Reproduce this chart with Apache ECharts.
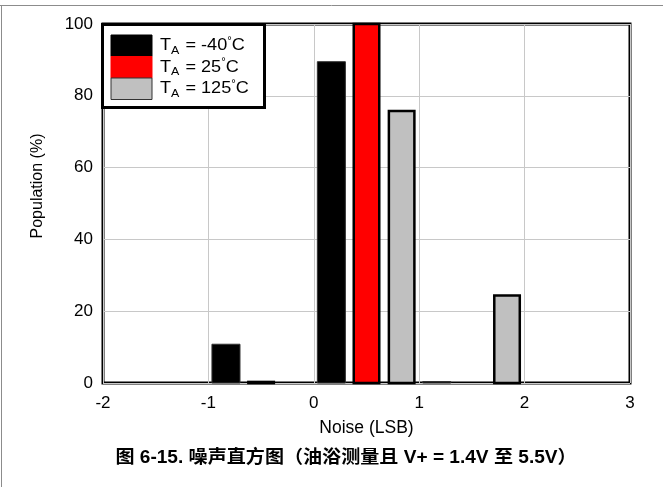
<!DOCTYPE html>
<html>
<head>
<meta charset="utf-8">
<script src="https://cdn.jsdelivr.net/npm/echarts@6/dist/echarts.min.js"></script>
<style>
  html, body { margin: 0; padding: 0; background: #fff; }
  #chart { width: 663px; height: 487px; }
</style>
</head>
<body>
<div id="chart"></div>
<script>
// Noise histogram: population (%) per 1-LSB bin, three temperatures
const bins = [-1, 0, 1];
const popMinus40 = [10.8, 89.5, 0.4];
const pop25 = [0.3, 100, 0];
const pop125 = [0, 75.8, 24.4];

const xTicks = [-2, -1, 0, 1, 2, 3];
const yTicks = [0, 20, 40, 60, 80, 100];

const seriesDefs = [
  { name: 'TA = -40°C', values: popMinus40, color: '#000000', stroke: '#333333', lw: 1,   slot: 0 },
  { name: 'TA = 25°C',  values: pop25,      color: '#ff0000', stroke: '#000000', lw: 2.5, slot: 1 },
  { name: 'TA = 125°C', values: pop125,     color: '#c0c0c0', stroke: '#000000', lw: 2.5, slot: 2 }
];

const FONT = '"Liberation Sans", Arial, "Noto Sans CJK SC", sans-serif';

function makeRender(def) {
  return function (params, api) {
    const v = api.value(1);
    if (!(v > 0)) return null;
    // each bin [k, k+1] holds three side-by-side bars
    const center = api.value(0) + (def.slot * 2 + 1) / 6;
    const half = def.lw > 1 ? 0.121 : 0.133;
    const p0 = api.coord([center - half, v]);
    const p1 = api.coord([center + half, 0]);
    return {
      type: 'rect',
      shape: { x: p0[0], y: p0[1], width: p1[0] - p0[0], height: p1[1] - p0[1] },
      style: { fill: def.color, stroke: def.stroke, lineWidth: def.lw }
    };
  };
}

const chart = echarts.init(document.getElementById('chart'), null, { renderer: 'canvas' });

const legendRows = seriesDefs.map((d, i) => {
  const label = d.name.replace('TA', '').replace('°C', '');
  return [
    {
      type: 'rect',
      shape: { x: 111, y: 35 + i * 21.5, width: 41, height: 21.5 },
      style: { fill: d.color, stroke: i === 2 ? '#333' : d.color, lineWidth: 1 },
      z: 101
    },
    {
      type: 'text',
      x: 160, y: 46 + i * 21.5, scaleX: 1.13,
      style: {
        text: '{t|T}{s|A}{t|' + label + '}{d|°}{t|C}',
        verticalAlign: 'middle',
        rich: {
          t: { fontSize: 16, fontFamily: FONT, fill: '#000', lineHeight: 20, verticalAlign: 'middle' },
          s: { fontSize: 11, fontFamily: FONT, fill: '#000', lineHeight: 20, verticalAlign: 'bottom', padding: [0, 1, 0, 0] },
          d: { fontSize: 10, fontFamily: FONT, fill: '#000', lineHeight: 20, verticalAlign: 'top' }
        }
      },
      z: 101
    }
  ];
}).flat();

chart.setOption({
  backgroundColor: '#fff',
  animation: false,
  grid: {
    left: 103, top: 24, width: 527, height: 359,
    show: true, borderColor: '#000', borderWidth: 3, backgroundColor: 'transparent'
  },
  xAxis: {
    type: 'value', min: xTicks[0], max: xTicks[xTicks.length - 1], interval: 1,
    name: 'Noise (LSB)', nameLocation: 'middle', nameGap: 36,
    nameTextStyle: { fontSize: 17.5, fontFamily: FONT, color: '#000' },
    axisLine: { show: false }, axisTick: { show: false },
    axisLabel: { fontSize: 17, fontFamily: FONT, color: '#000', margin: 12 },
    splitLine: { show: true, lineStyle: { color: '#c8c8c8', width: 1 } }
  },
  yAxis: {
    type: 'value', min: yTicks[0], max: yTicks[yTicks.length - 1], interval: 20,
    axisLine: { show: false }, axisTick: { show: false },
    axisLabel: { fontSize: 17, fontFamily: FONT, color: '#000', margin: 10 },
    splitLine: { show: true, lineStyle: { color: '#c8c8c8', width: 1 } }
  },
  series: seriesDefs.map(d => ({
    type: 'custom',
    name: d.name,
    renderItem: makeRender(d),
    encode: { x: 0, y: 1 },
    data: bins.map((b, i) => [b, d.values[i]]),
    z: 5
  })),
  graphic: [
    // page frame lines
    { type: 'line', shape: { x1: 0, y1: 5.5, x2: 663, y2: 5.5 }, style: { stroke: '#8c8c8c', lineWidth: 1 }, z: 100 },
    { type: 'line', shape: { x1: 1.5, y1: 5, x2: 1.5, y2: 487 }, style: { stroke: '#8c8c8c', lineWidth: 1 }, z: 100 },
    // y axis title
    {
      type: 'text', x: 38, y: 186, rotation: Math.PI / 2,
      style: {
        text: 'Population (%)', fontSize: 16, fontFamily: FONT, fill: '#000',
        align: 'center', verticalAlign: 'middle'
      },
      z: 100
    },
    // legend box
    { type: 'rect', shape: { x: 102.5, y: 24.5, width: 162, height: 83 }, style: { fill: '#fff', stroke: '#000', lineWidth: 3 }, z: 100 },
    ...legendRows,
    // caption
    {
      type: 'text', x: 346, y: 458, scaleX: 1.06,
      style: {
        text: '图 6-15. 噪声直方图（油浴测量且 V+ = 1.4V 至 5.5V）',
        fontSize: 18, fontWeight: 'bold', fontFamily: FONT, fill: '#000',
        align: 'center', verticalAlign: 'middle'
      },
      z: 100
    }
  ]
});
</script>
</body>
</html>
